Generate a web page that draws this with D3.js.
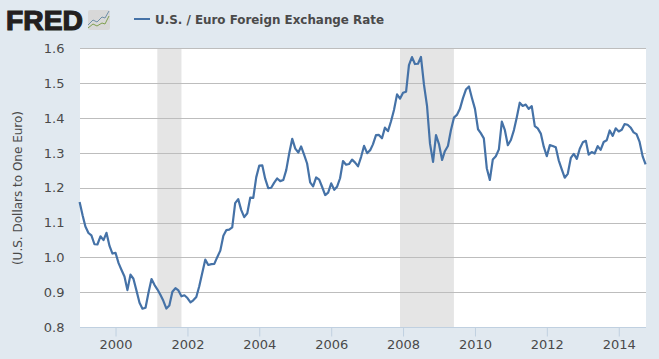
<!DOCTYPE html>
<html><head><meta charset="utf-8">
<script src="https://cdn.jsdelivr.net/npm/d3@7"></script>
<style>html,body{margin:0;padding:0;background:#e1e9f0;overflow:hidden}svg{display:block}</style>
</head><body><svg id="c" width="659" height="359"></svg>
<script>
const startYear = 1999;
const rates = [
1.1591,1.1203,1.0886,1.0701,1.0630,1.0377,1.0370,1.0605,1.0497,1.0706,1.0328,1.0110,
1.0131,0.9834,0.9643,0.9449,0.9059,0.9505,0.9386,0.9045,0.8695,0.8525,0.8552,0.8983,
0.9376,0.9205,0.9083,0.8925,0.8753,0.8530,0.8615,0.9014,0.9114,0.9050,0.8883,0.8912,
0.8832,0.8707,0.8766,0.8860,0.9170,0.9561,0.9935,0.9781,0.9806,0.9812,1.0013,1.0194,
1.0622,1.0785,1.0797,1.0862,1.1556,1.1674,1.1365,1.1155,1.1267,1.1714,1.1710,1.2298,
1.2638,1.2640,1.2261,1.1989,1.2000,1.2146,1.2266,1.2191,1.2224,1.2507,1.2997,1.3406,
1.3123,1.3013,1.3185,1.2943,1.2697,1.2155,1.2041,1.2295,1.2234,1.2022,1.1789,1.1861,
1.2126,1.1940,1.2028,1.2273,1.2767,1.2661,1.2681,1.2810,1.2722,1.2617,1.2888,1.3205,
1.2993,1.3080,1.3246,1.3513,1.3518,1.3421,1.3726,1.3626,1.3910,1.4233,1.4683,1.4559,
1.4728,1.4759,1.5520,1.5754,1.5554,1.5562,1.5759,1.4955,1.4342,1.3266,1.2744,1.3511,
1.3244,1.2797,1.3050,1.3199,1.3646,1.4014,1.4092,1.4266,1.4575,1.4821,1.4908,1.4579,
1.4266,1.3680,1.3570,1.3417,1.2563,1.2223,1.2810,1.2903,1.3103,1.3901,1.3654,1.3221,
1.3371,1.3656,1.4011,1.4442,1.4349,1.4388,1.4264,1.4343,1.3770,1.3706,1.3556,1.3179,
1.2905,1.3224,1.3201,1.3162,1.2789,1.2526,1.2288,1.2400,1.2856,1.2974,1.2828,1.3119,
1.3304,1.3347,1.2953,1.3025,1.2983,1.3197,1.3088,1.3314,1.3364,1.3646,1.3491,1.3708,
1.3618,1.3665,1.3828,1.3810,1.3732,1.3592,1.3539,1.3316,1.2901,1.2673];
const recessions = [[new Date(2001,2,1),new Date(2001,10,1)],[new Date(2007,11,1),new Date(2009,5,1)]];
const yTicks = [0.8,0.9,1.0,1.1,1.2,1.3,1.4,1.5,1.6];
const xTickYears = [2000,2002,2004,2006,2008,2010,2012,2014];
const seriesName = "U.S. / Euro Foreign Exchange Rate";
const yTitle = "(U.S. Dollars to One Euro)";

const font = "'DejaVu Sans',Verdana,sans-serif", txt = "#4a4a4a", blue = "#4572a7";
const svg = d3.select("#c");
const dates = rates.map((_,i)=>new Date(startYear,i,1));
const x = d3.scaleTime().domain([dates[0],dates[dates.length-1]]).range([79.6,645.6]);
const y = d3.scaleLinear().domain([0.8,1.6]).range([327,48.5]);
const L = 80, R = 646;

svg.append("rect").attr("width",659).attr("height",359).attr("fill","#e1e9f0");
svg.append("rect").attr("x",L).attr("y",48).attr("width",R-L).attr("height",279).attr("fill","#fff");
svg.selectAll(".rec").data(recessions).join("rect").attr("class","rec")
  .attr("x",d=>x(d[0])).attr("y",49).attr("width",d=>x(d[1])-x(d[0])).attr("height",278).attr("fill","#e5e5e5");
svg.selectAll(".grid").data(yTicks.filter(v=>v>0.8)).join("line").attr("class","grid")
  .attr("x1",L).attr("x2",R).attr("y1",d=>Math.round(y(d)-0.01)+0.5).attr("y2",d=>Math.round(y(d)-0.01)+0.5)
  .attr("stroke","#bdbdbd").attr("stroke-width",1);

const xAxis = svg.append("g").attr("transform","translate(0,327.5)")
  .call(d3.axisBottom(x).tickValues(xTickYears.map(v=>new Date(v,0,1))).tickFormat(d3.timeFormat("%Y")).tickSize(9).tickPadding(3));
xAxis.selectAll("line").attr("stroke","#c0d0e0");
xAxis.select(".domain").attr("stroke","#c0d0e0").attr("d",`M${L},0H${R}`);
xAxis.selectAll("text").attr("font-family",font).attr("font-size",13).attr("fill",txt);

const yAxis = svg.append("g").attr("transform","translate(71.5,0)")
  .call(d3.axisLeft(y).tickValues(yTicks).tickFormat(d3.format(".1f")).tickSize(0).tickPadding(7));
yAxis.select(".domain").remove();
yAxis.selectAll("text").attr("font-family",font).attr("font-size",13).attr("fill",txt);

svg.append("text").attr("transform","translate(21.5,188) rotate(-90)").attr("text-anchor","middle")
  .attr("font-family",font).attr("font-size",12).attr("fill",txt).text(yTitle);

const line = d3.line().x((d,i)=>x(dates[i])).y(d=>y(d));
svg.append("path").datum(rates).attr("d",line).attr("fill","none").attr("stroke",blue)
  .attr("stroke-width",2.2).attr("stroke-linejoin","round");

// Legend
svg.append("line").attr("x1",134).attr("x2",150).attr("y1",19).attr("y2",19).attr("stroke",blue).attr("stroke-width",2);
svg.append("text").attr("x",155).attr("y",23.5).attr("font-family",font).attr("font-size",11.9).attr("font-weight","bold").attr("fill","#4a4a4a").text(seriesName);

// FRED logo
svg.append("text").attr("x",6).attr("y",30).attr("font-family","'Liberation Sans',Arial,sans-serif")
  .attr("font-size",28).attr("font-weight","bold").attr("fill","#231f20").attr("stroke","#231f20").attr("stroke-width",1.2)
  .attr("textLength",77).attr("lengthAdjust","spacingAndGlyphs").text("FRED");
const logo = svg.append("g");
logo.append("rect").attr("x",88).attr("y",10).attr("width",22).attr("height",20).attr("rx",2).attr("fill","#d8d8d8");
logo.append("path").attr("d","M88,25L93,20L97,22L102,17L105,18L109,11").attr("fill","none").attr("stroke","#6f8fa8").attr("stroke-width",1);
logo.append("path").attr("d","M88,28L93,24L97,26L102,23L105,24L109,16").attr("fill","none").attr("stroke","#7f9f4f").attr("stroke-width",1);
</script></body></html>
